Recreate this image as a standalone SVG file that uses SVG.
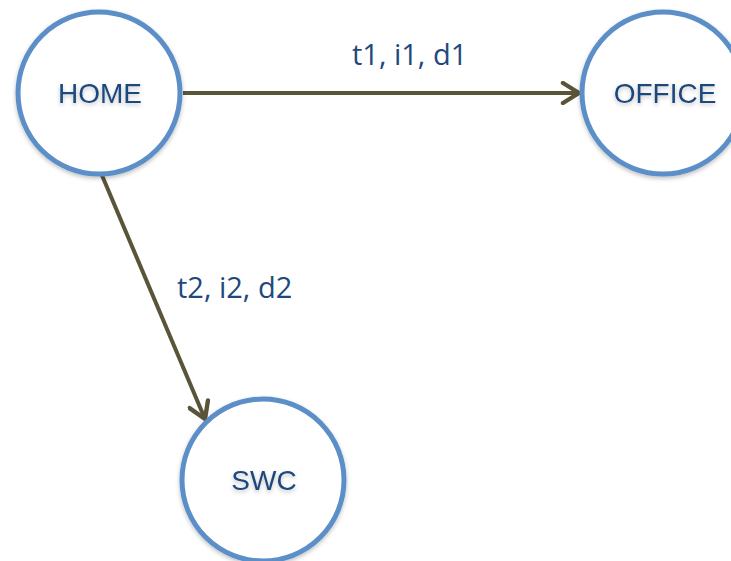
<svg xmlns="http://www.w3.org/2000/svg" width="731" height="561" viewBox="0 0 731 561">
<style>
.node{fill:#ffffff;stroke:#5B8FC8;stroke-width:5}
.ntext{font-family:"Liberation Sans",Arial,sans-serif;font-size:28px;fill:#1F497D;text-anchor:middle}
.edge{stroke:#5A5438;stroke-width:4;fill:none}
.elabel{font-family:"Open Sans","Liberation Sans",sans-serif;font-size:29px;fill:#1F497D}
</style>
<defs>
<marker id="arr" viewBox="0 0 12 12" refX="10" refY="6" markerWidth="6" markerHeight="6" markerUnits="strokeWidth" orient="auto">
<path d="M2,1 L10,6 L2,11" fill="none" stroke="#5A5438" stroke-width="2.2" stroke-linecap="round" stroke-linejoin="round"/>
</marker>
<filter id="sh" x="-20%" y="-20%" width="140%" height="140%">
<feDropShadow dx="0" dy="2" stdDeviation="2" flood-color="#000" flood-opacity="0.25"/>
</filter>
</defs>
<rect width="731" height="561" fill="#ffffff"/>
<g id="connectors">
<line class="edge" x1="183" y1="93" x2="579" y2="93" marker-end="url(#arr)"/>
<line class="edge" x1="101" y1="173" x2="205" y2="419" marker-end="url(#arr)"/>
<text class="elabel" x="352" y="65">t1, i1, d1</text>
<text class="elabel" x="177" y="298">t2, i2, d2</text>
</g>
<g id="home">
<circle class="node" cx="99" cy="93" r="81" filter="url(#sh)"/>
<text class="ntext" x="100" y="103" filter="url(#sh)">HOME</text>
</g>
<g id="office">
<circle class="node" cx="663" cy="93" r="81" filter="url(#sh)"/>
<text class="ntext" x="665" y="103" filter="url(#sh)">OFFICE</text>
</g>
<g id="swc">
<circle class="node" cx="263" cy="480" r="81" filter="url(#sh)"/>
<text class="ntext" x="264" y="490" filter="url(#sh)">SWC</text>
</g>
</svg>
